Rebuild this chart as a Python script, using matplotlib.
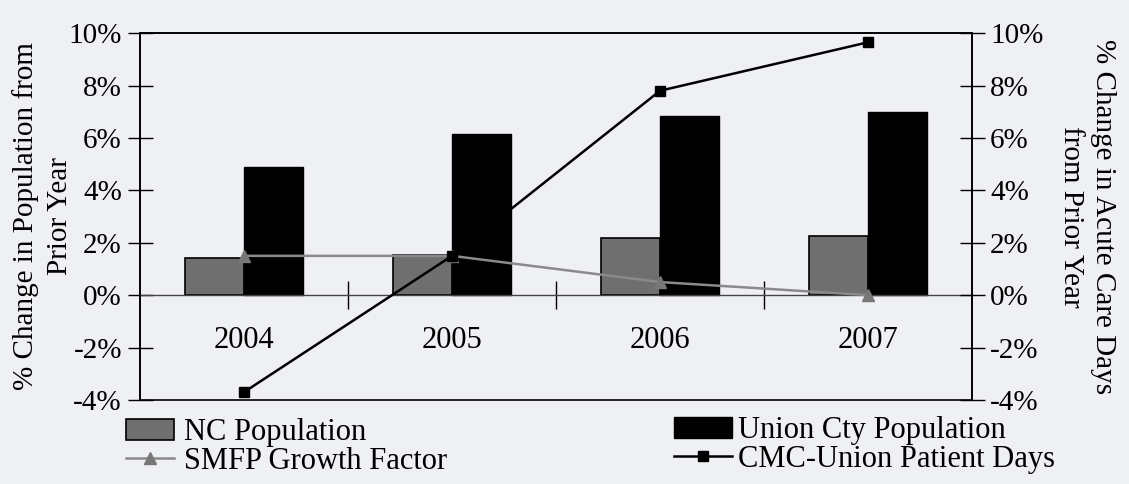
import matplotlib.pyplot as plt
import numpy as np
from matplotlib.ticker import FuncFormatter

# values (percent change from prior year)
years = ["2004", "2005", "2006", "2007"]
nc_pop = [1.4, 1.55, 2.2, 2.25]
union_pop = [4.9, 6.15, 6.85, 7.0]
smfp_growth = [1.5, 1.5, 0.5, 0.0]
cmc_days = [-3.7, 1.5, 7.8, 9.65]
ticks = [-4, -2, 0, 2, 4, 6, 8, 10]

plt.rcParams['font.family'] = ['Liberation Serif', 'DejaVu Serif']
bg = '#eff0f4'

fig = plt.figure(figsize=(11.29, 4.84), dpi=100, facecolor=bg)
ax = fig.add_axes([0.124, 0.1736, 0.737, 0.758])
ax.set_facecolor(bg)
ax2 = ax.twinx()

x = np.arange(len(years))
w = 0.285
nc = ax.bar(x - w/2, nc_pop, w, color='#6f6f70', edgecolor='black', linewidth=1.2,
            label='NC Population')
un = ax.bar(x + w/2, union_pop, w, color='black', edgecolor='black',
            label='Union Cty Population')

sm, = ax2.plot(x, smfp_growth, color='#8a8a8a', lw=1.8, marker='^', ms=8,
               markerfacecolor='#777777', markeredgecolor='#777777',
               label='SMFP Growth Factor')
cm, = ax2.plot(x, cmc_days, color='black', lw=1.8, marker='s', ms=7,
               label='CMC-Union Patient Days')

pct = FuncFormatter(lambda v, p: f'{v:.0f}%')
for a in (ax, ax2):
    a.set_ylim(-4, 10)
    a.set_yticks(ticks)
    a.yaxis.set_major_formatter(pct)
    a.tick_params(axis='y', direction='inout', length=18, width=1, labelsize=21, pad=4)
    for s in a.spines.values():
        s.set_linewidth(1.2)
ax.set_xlim(-0.5, 3.5)

# zero line carries the category boundary ticks, frame bottom stays at -4%
ax.spines['bottom'].set_position(('data', 0))
ax.spines['bottom'].set_linewidth(1.0)
ax.spines['bottom'].set_color('#444444')
ax.set_xticks([0.5, 1.5, 2.5])
ax.set_xticklabels([])
ax.tick_params(axis='x', which='major', direction='inout', length=20, width=1)
ax.set_xticks(x, years, minor=True)
ax.tick_params(axis='x', which='minor', length=0, pad=22, labelsize=22)
ax2.spines['bottom'].set_visible(True)

ax.set_ylabel('% Change in Population from\nPrior Year', fontsize=21, linespacing=1.38,
              labelpad=-3)
ax2.set_ylabel('% Change in Acute Care Days\nfrom Prior Year', fontsize=21,
               linespacing=1.3, rotation=-90, labelpad=52)

leg1 = fig.legend(handles=[nc, sm], loc='upper left', bbox_to_anchor=(0.095, 0.174),
                  frameon=False, fontsize=22, handlelength=1.6, handletextpad=0.3,
                  labelspacing=0.0, borderpad=0.1)
leg2 = fig.legend(handles=[un, cm], loc='upper left', bbox_to_anchor=(0.581, 0.178),
                  frameon=False, fontsize=22, handlelength=1.9, handletextpad=0.2,
                  labelspacing=0.0, borderpad=0.1)

fig.savefig('out.png', dpi=100, facecolor=bg)
